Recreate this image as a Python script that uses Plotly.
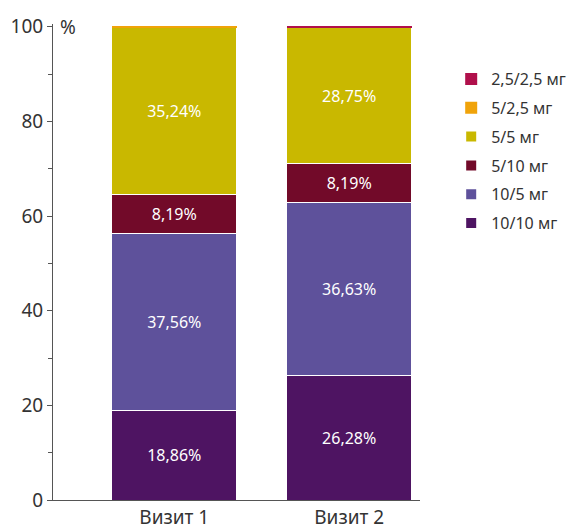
import plotly.graph_objects as go

categories = ["Визит 1", "Визит 2"]
series_names = ["10/10 мг", "10/5 мг", "5/10 мг", "5/5 мг", "5/2,5 мг", "2,5/2,5 мг"]
v_10_10 = [18.86, 26.28]
v_10_5 = [37.56, 36.63]
v_5_10 = [8.19, 8.19]
v_5_5 = [35.24, 28.75]
v_5_25 = [0.4, 0.0]
v_25_25 = [0.0, 0.4]
series_values = [v_10_10, v_10_5, v_5_10, v_5_5, v_5_25, v_25_25]
colors = ["#4e1462", "#5e519b", "#720a29", "#c9b800", "#f0a30a", "#b0104b"]
y_ticks = [0, 20, 40, 60, 80, 100]

FONT = "Noto Sans"

fig = go.Figure()
for i, (name, vals, col) in enumerate(zip(series_names, series_values, colors)):
    labels = [(f"{v:.2f}".replace(".", ",") + "%") if v >= 1 else "" for v in vals]
    small = max(vals) < 1
    fig.add_trace(go.Bar(
        x=categories, y=vals, name=name, legendgroup=f"g{i}", legendrank=100 - i,
        marker=dict(color=col, line=dict(color="white", width=0 if small else 1)),
        text=labels, textposition="inside", insidetextanchor="middle",
        textfont=dict(color="white", size=16, family=FONT),
        width=0.715, hoverinfo="skip",
    ))

fig.update_layout(
    barmode="stack",
    width=580, height=530,
    margin=dict(l=53, r=160, t=24, b=30, autoexpand=False),
    paper_bgcolor="white", plot_bgcolor="white",
    font=dict(family=FONT, color="#333333"),
    showlegend=True,
    legend=dict(
        traceorder="grouped", x=1.085, y=0.92, xanchor="left", yanchor="top",
        font=dict(size=16, color="#333333", family=FONT),
        itemsizing="constant", tracegroupgap=5, itemwidth=30,
    ),
)
fig.update_xaxes(
    range=[-0.6935, 1.405], showline=True, linecolor="#555555", linewidth=1,
    ticks="", tickfont=dict(size=19, color="#333333", family=FONT),
    showgrid=False, zeroline=False, automargin=False,
)
fig.update_yaxes(
    range=[0, 100.6], tickvals=y_ticks, showline=True, linecolor="#555555", linewidth=1,
    ticks="outside", ticklen=5, tickcolor="#555555",
    minor=dict(dtick=10, ticks="outside", ticklen=4, tickcolor="#555555", showgrid=False),
    tickfont=dict(size=19, color="#333333", family=FONT),
    showgrid=False, zeroline=False, automargin=False,
)
fig.add_annotation(
    text="%", xref="paper", yref="y", x=0.0, y=100, xanchor="left", yanchor="middle",
    xshift=5, showarrow=False, font=dict(size=19, color="#333333", family=FONT),
)

fig.write_html("out.html")
